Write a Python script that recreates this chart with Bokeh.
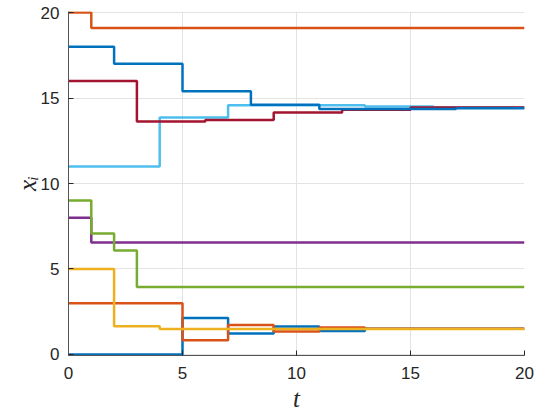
from bokeh.plotting import figure
from bokeh.models import Range1d, FixedTicker
from bokeh.embed import file_html
from bokeh.resources import INLINE

t = list(range(0, 21))

x_blue_low = [0, 0, 0, 0, 0, 2.13, 2.13, 1.22, 1.22, 1.63, 1.63, 1.38, 1.38, 1.5, 1.5, 1.5, 1.5, 1.5, 1.5, 1.5, 1.5]
x_orange_low = [3, 3, 3, 3, 3, 0.83, 0.83, 1.72, 1.72, 1.35, 1.35, 1.58, 1.58, 1.51, 1.51, 1.51, 1.51, 1.51, 1.51, 1.51, 1.51]
x_yellow = [5, 5, 1.65, 1.65, 1.49, 1.49, 1.49, 1.49, 1.49, 1.49, 1.49, 1.49, 1.49, 1.49, 1.49, 1.49, 1.49, 1.49, 1.49, 1.49, 1.49]
x_purple = [8, 6.55, 6.55, 6.55, 6.55, 6.55, 6.55, 6.55, 6.55, 6.55, 6.55, 6.55, 6.55, 6.55, 6.55, 6.55, 6.55, 6.55, 6.55, 6.55, 6.55]
x_green = [9, 7.07, 6.08, 3.95, 3.95, 3.95, 3.95, 3.95, 3.95, 3.95, 3.95, 3.95, 3.95, 3.95, 3.95, 3.95, 3.95, 3.95, 3.95, 3.95, 3.95]
x_lightblue = [11, 11, 11, 11, 13.86, 13.86, 13.86, 14.58, 14.58, 14.58, 14.58, 14.58, 14.58, 14.5, 14.5, 14.5, 14.45, 14.45, 14.45, 14.45, 14.45]
x_darkred = [16, 16, 16, 13.62, 13.62, 13.62, 13.72, 13.72, 13.72, 14.15, 14.15, 14.15, 14.32, 14.32, 14.32, 14.45, 14.45, 14.45, 14.45, 14.45, 14.45]
x_blue_high = [18, 18, 17, 17, 17, 15.4, 15.4, 15.4, 14.6, 14.6, 14.6, 14.36, 14.36, 14.36, 14.36, 14.36, 14.36, 14.4, 14.4, 14.4, 14.4]
x_orange_high = [20, 19.1, 19.1, 19.1, 19.1, 19.1, 19.1, 19.1, 19.1, 19.1, 19.1, 19.1, 19.1, 19.1, 19.1, 19.1, 19.1, 19.1, 19.1, 19.1, 19.1]

series = [x_blue_low, x_orange_low, x_yellow, x_purple, x_green,
          x_lightblue, x_darkred, x_blue_high, x_orange_high]
colors = ["#0072BD", "#D95319", "#EDB120", "#7E2F8E", "#77AC30",
          "#4DBEEE", "#A2142F", "#0072BD", "#D95319"]

ticks = [0, 5, 10, 15, 20]

p = figure(frame_width=456, frame_height=344, output_backend="svg", toolbar_location=None,
           x_range=Range1d(0, 20), y_range=Range1d(-0.06, 20.06),
           min_border_left=68, min_border_right=10, min_border_top=11,
           min_border_bottom=10)
p.outline_line_color = None

for ys, c in zip(series, colors):
    p.step(t, ys, mode="after", line_color=c, line_width=2.5)

for ax in (p.xaxis[0], p.yaxis[0]):
    ax.ticker = FixedTicker(ticks=ticks)
    ax.major_tick_in = 5
    ax.major_tick_out = 0
    ax.minor_tick_line_color = None
    ax.axis_line_color = "#555555"
    ax.major_tick_line_color = "#262626"
    ax.major_label_text_font = "Liberation Sans"
    ax.major_label_text_font_size = "17px"
    ax.major_label_text_color = "#262626"
    ax.axis_label_text_font = "Liberation Serif"
    ax.axis_label_text_font_style = "italic"
    ax.axis_label_text_font_size = "25px"
    ax.axis_label_text_color = "#262626"

p.xaxis.axis_label = "t"
p.yaxis.axis_label = "xᵢ"
p.xaxis.major_label_standoff = 11
p.yaxis.major_label_standoff = 9
p.xaxis.axis_label_standoff = 3
p.yaxis.axis_label_standoff = -3

p.xgrid.ticker = FixedTicker(ticks=ticks)
p.ygrid.ticker = FixedTicker(ticks=ticks)
p.grid.grid_line_color = "#e3e3e3"
p.grid.grid_line_width = 1

open("out.html", "w").write(file_html(p, INLINE))
